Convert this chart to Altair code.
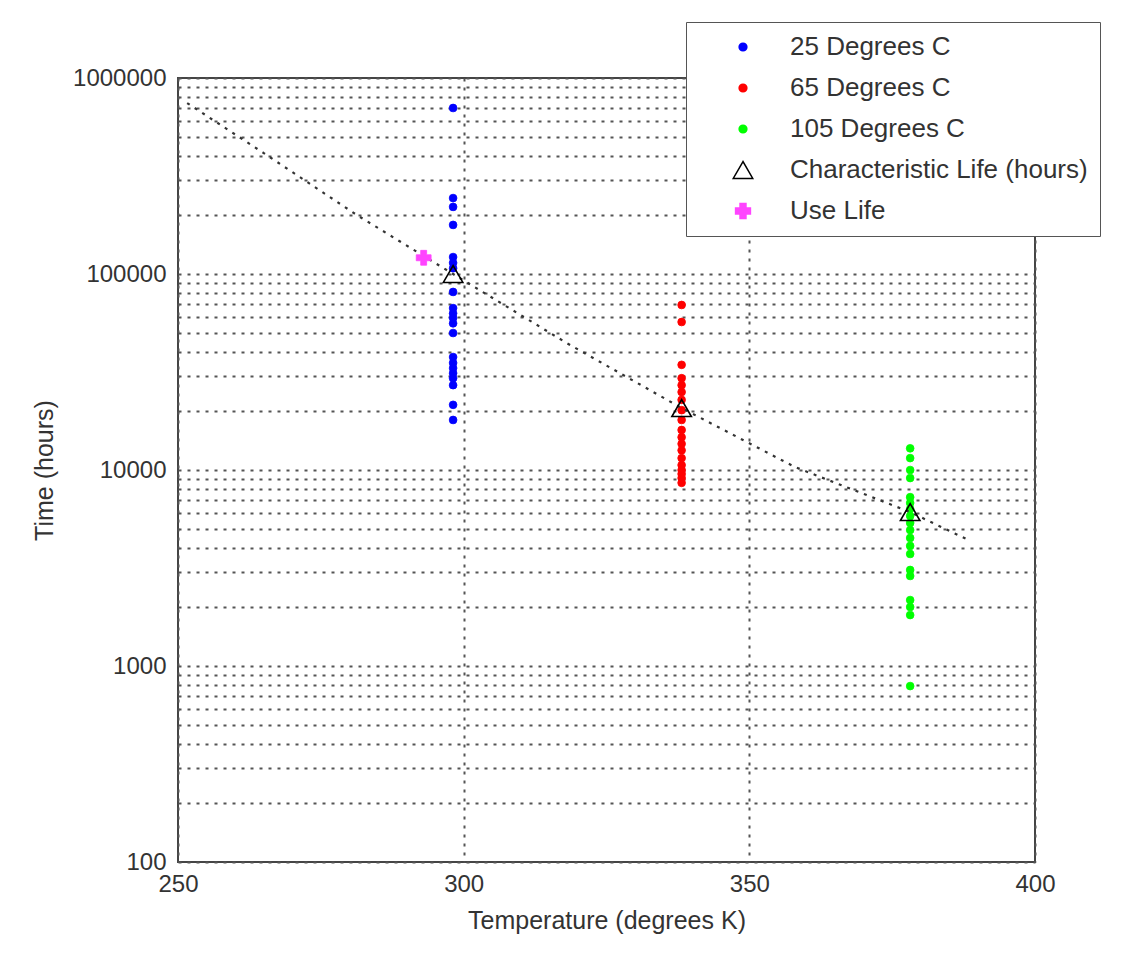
import altair as alt
import pandas as pd

# ---- data ----
series_names = ["25 Degrees C", "65 Degrees C", "105 Degrees C",
                "Characteristic Life (hours)", "Use Life"]
fill_colors = ["#0000ff", "#ff0000", "#00ff00", "transparent", "#ff44ff"]
stroke_colors = ["#0000ff", "#ff0000", "#00ff00", "#000000", "#ff44ff"]
series_shapes = ["circle", "circle", "circle", "triangle-up", "cross"]
series_sizes = [60, 60, 60, 380, 220]

t_25 = 298.15
t_65 = 338.15
t_105 = 378.15

hours_25 = [703000, 244000, 220000, 178000, 122000, 114000, 107000, 81000,
            67000, 63000, 59700, 56000, 50000, 37700, 35200, 33100, 31200,
            29400, 27100, 21500, 18000]
hours_65 = [69500, 56900, 34400, 29400, 27100, 25000, 22800, 20200, 18000,
            16000, 14700, 13600, 12600, 11500, 10600, 10000, 9550, 9100, 8600]
hours_105 = [12900, 11500, 10000, 9100, 7270, 6790, 6330, 5830, 5370, 4940,
             4500, 4100, 3730, 3090, 2880, 2170, 2000, 1820, 790]

char_temps = [298.15, 338.15, 378.15]
char_hours = [100000, 20700, 6100]

use_temps = [293.0]
use_hours = [121000]

fit_temps = [251.6, 265.0, 281.3, 298.15, 318.0, 338.15, 358.0, 378.15, 388.3]
fit_hours = [745000, 414000, 200000, 100000, 44500, 20700, 10350, 6100, 4400]

x_ticks = [250, 300, 350, 400]
y_labels = [100, 1000, 10000, 100000, 1000000]
y_grid = [m * d for d in [100, 1000, 10000, 100000] for m in range(1, 10)] + [1000000]

# ---- tables ----
pts = pd.DataFrame({
    "T": [t_25] * len(hours_25) + [t_65] * len(hours_65) + [t_105] * len(hours_105),
    "hours": hours_25 + hours_65 + hours_105,
    "series": [series_names[0]] * len(hours_25) + [series_names[1]] * len(hours_65)
              + [series_names[2]] * len(hours_105),
})
chars = pd.DataFrame({"T": char_temps, "hours": char_hours,
                      "series": [series_names[3]] * len(char_temps)})
uses = pd.DataFrame({"T": use_temps, "hours": use_hours,
                     "series": [series_names[4]] * len(use_temps)})
fit = pd.DataFrame({"T": fit_temps, "hours": fit_hours})

FONT = "Liberation Sans"
TXT = "#333333"
GRID = "#555555"

label_expr = ("indexof([" + ",".join(str(v) for v in y_labels) +
              "], datum.value) >= 0 ? format(datum.value, 'd') : ''")

X = alt.X("T:Q",
          scale=alt.Scale(domain=[250, 400], nice=False, zero=False),
          axis=alt.Axis(values=x_ticks, format="d", title="Temperature (degrees K)",
                        grid=True, gridDash=[3, 6], gridColor=GRID, gridWidth=2,
                        ticks=False, domain=False, labelFlush=False, labelOverlap=False,
                        labelPadding=10, labelFont=FONT, labelFontSize=24, labelColor=TXT,
                        titleFont=FONT, titleFontSize=25, titleFontWeight="normal",
                        titleColor=TXT, titleBaseline="alphabetic", titleY=66))
Y = alt.Y("hours:Q",
          scale=alt.Scale(type="log", domain=[100, 1000000], nice=False),
          axis=alt.Axis(values=y_grid, labelExpr=label_expr, title="Time (hours)",
                        grid=True, gridDash=[3, 6], gridColor=GRID, gridWidth=2,
                        ticks=False, domain=False, labelFlush=False, labelOverlap=False,
                        labelPadding=12, labelFont=FONT, labelFontSize=24, labelColor=TXT,
                        titleFont=FONT, titleFontSize=25, titleFontWeight="normal",
                        titleColor=TXT, titleAngle=270, titleBaseline="alphabetic",
                        titleX=-126, titleY=392, titleAlign="center"))

legend = alt.Legend(
    title=None, orient="none", legendX=508, legendY=-56, direction="vertical",
    labelFont=FONT, labelFontSize=26, labelColor=TXT, labelLimit=400,
    padding=12, rowPadding=15, symbolOffset=32, labelOffset=34,
    symbolStrokeWidth=1.5, strokeColor="#555", fillColor="white", symbolOpacity=1,
    symbolSize=80,
)

FILL = alt.Fill("series:N",
                scale=alt.Scale(domain=series_names, range=fill_colors), legend=legend)
STROKE = alt.Stroke("series:N",
                    scale=alt.Scale(domain=series_names, range=stroke_colors), legend=legend)
SHAPE = alt.Shape("series:N",
                  scale=alt.Scale(domain=series_names, range=series_shapes), legend=legend)
SIZE = alt.Size("series:N",
                scale=alt.Scale(type="ordinal", domain=series_names, range=series_sizes),
                legend=legend)

line = alt.Chart(fit).mark_line(color="#333", strokeDash=[3, 6], strokeWidth=2.2).encode(
    x=X, y=Y, order=alt.Order("T:Q"))
dots = alt.Chart(pts).mark_point(filled=True, strokeWidth=0.8, opacity=1).encode(
    x=X, y=Y, fill=FILL, stroke=STROKE, shape=SHAPE, size=SIZE)
tri = alt.Chart(chars).mark_point(strokeWidth=1.6, opacity=1).encode(
    x=X, y=Y, fill=FILL, stroke=STROKE, shape=SHAPE, size=SIZE)
use = alt.Chart(uses).mark_point(strokeWidth=0.8, opacity=1).encode(
    x=X, y=Y, fill=FILL, stroke=STROKE, shape=SHAPE, size=SIZE)

chart = alt.layer(dots, line, tri, use).properties(
    width=857, height=784,
    autosize="none",
    padding={"left": 178, "top": 78, "right": 89, "bottom": 113},
    background="white",
).configure_view(stroke="#444", strokeWidth=2)

chart.save("out.html", embed_options={"renderer": "svg", "actions": False})
